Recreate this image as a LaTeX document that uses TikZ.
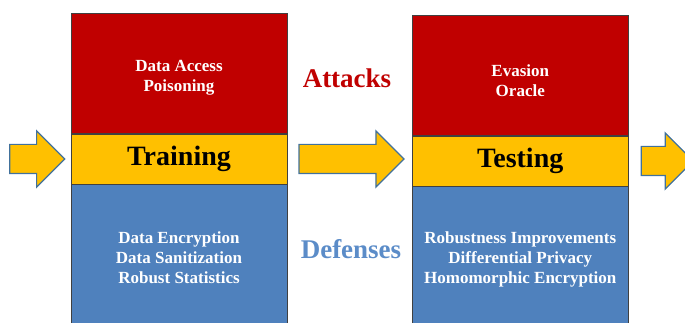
\documentclass[tikz,border=0pt]{standalone}
\usepackage{fontspec}
\setmainfont{Liberation Serif}
\usetikzlibrary{positioning,shapes.arrows}
\definecolor{atkred}{HTML}{C00000}
\definecolor{phase}{HTML}{FFC000}
\definecolor{defblue}{HTML}{4F81BD}
\definecolor{deftext}{HTML}{5B8CC8}
\definecolor{arrowline}{HTML}{41719C}
\begin{document}
\begin{tikzpicture}[x=1pt,y=-1pt,
  stage/.style={draw=black!75, line width=0.8pt, minimum width=216pt, inner sep=0pt},
  phasebox/.style={stage, fill=phase, minimum height=50pt, font=\fontsize{28}{30}\selectfont\bfseries},
  atkbox/.style={stage, fill=atkred, minimum height=120pt},
  defbox/.style={stage, fill=defblue, minimum height=146pt},
  items/.style={text=white, align=center, font=\fontsize{17}{20}\selectfont\bfseries},
  flow/.style={single arrow, draw=arrowline, line width=1.2pt, fill=phase,
    inner xsep=0pt, inner ysep=14pt, single arrow head extend=13.5pt}]
\useasboundingbox (0,0) rectangle (685,323);
\clip (0,0) rectangle (685,323);
% training column
\node[phasebox](train) at (179,159){Training};
\node[atkbox, above=0pt of train](trainatk){};
\node[defbox, items, below=0pt of train](traindef){Data Encryption\\Data Sanitization\\Robust Statistics};
\node[items](trainatklist) at ([yshift=-5pt]trainatk.center){Data Access\\Poisoning};
% arrows in and between
\node[flow, minimum height=55pt, left=5pt of train](inflow){};
\node[flow, minimum height=105pt, right=11pt of train](midflow){};
% testing column
\node[phasebox, right=7pt of midflow, yshift=-2pt](test){Testing};
\node[atkbox, above=0pt of test](testatk){};
\node[defbox, items, below=0pt of test](testdef){Robustness Improvements\\Differential Privacy\\Homomorphic Encryption};
\node[items](testatklist) at ([yshift=-5pt]testatk.center){Evasion\\Oracle};
\node[flow, minimum height=52pt, right=12pt of test](outflow){};
% row labels
\node[text=atkred, font=\fontsize{27}{30}\selectfont\bfseries](attacks) at (347,78){Attacks};
\node[text=deftext, font=\fontsize{27}{30}\selectfont\bfseries](defenses) at (351,249){Defenses};
\end{tikzpicture}
\end{document}
